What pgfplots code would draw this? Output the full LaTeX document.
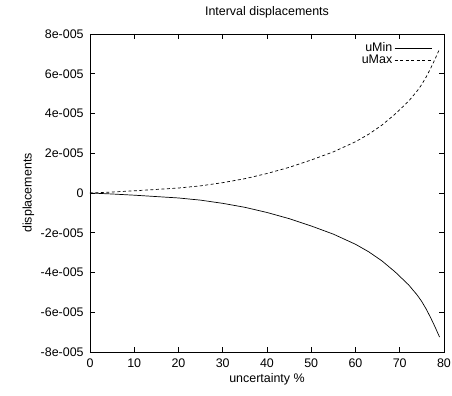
\documentclass[border=0pt]{standalone}
\usepackage{fontspec}
\setmainfont{Liberation Sans}
\usepackage{pgfplots}
\pgfplotsset{compat=1.18}
\begin{document}
\fontsize{12.5}{15}\selectfont
\begin{tikzpicture}
\useasboundingbox (-90bp,-44bp) rectangle (362bp,352bp);
\begin{axis}[
  at={(0,0)}, anchor=south west,
  scale only axis, width=354bp, height=318bp,
  xmin=0, xmax=80, ymin=-8e-5, ymax=8e-5,
  scaled y ticks=false,
  xtick={0,10,...,80},
  xticklabels={0,10,20,30,40,50,60,70,80},
  ytick={-8e-5,-6e-5,-4e-5,-2e-5,0,2e-5,4e-5,6e-5,8e-5},
  yticklabels={-8e-005,-6e-005,-4e-005,-2e-005,0,2e-005,4e-005,6e-005,8e-005},
  tick align=inside,
  major tick length=5bp,
  tick style={black, line width=0.8pt},
  axis line style={line width=1pt},
  xticklabel style={yshift=-2bp},
  yticklabel style={xshift=-2bp},
  title={Interval displacements},
  title style={at={(0.5,1)}, anchor=south, yshift=6bp},
  xlabel={uncertainty \%},
  ylabel={displacements},
  xlabel style={yshift=2bp},
  ylabel style={yshift=-2bp},
  legend style={draw=none, fill=none, at={(0.975,0.985)}, anchor=north east,
    row sep=-3bp, font=\fontsize{12.5}{14}\selectfont,
    /tikz/every even column/.append style={column sep=5bp}},
  legend cell align=right,
  legend plot pos=right,
  legend image code/.code={\draw[#1] (0bp,0bp) -- (37bp,0bp);},
]
\addplot[black, line width=0.7pt] coordinates {
(0,0) (5,-0.05e-5) (10,-0.11e-5) (15,-0.18e-5) (20,-0.25e-5) (25,-0.36e-5)
(30,-0.52e-5) (35,-0.72e-5) (40,-0.98e-5) (45,-1.29e-5) (50,-1.66e-5)
(55,-2.07e-5) (60,-2.58e-5) (63,-2.96e-5) (66,-3.42e-5) (69,-3.98e-5)
(72,-4.62e-5) (74,-5.15e-5) (75,-5.47e-5) (76,-5.85e-5) (77,-6.28e-5)
(78,-6.75e-5) (79,-7.25e-5)
};
\addlegendentry{uMin}
\addplot[black, line width=0.7pt, dash pattern=on 3bp off 2.5bp] coordinates {
(0,0) (5,0.05e-5) (10,0.11e-5) (15,0.18e-5) (20,0.25e-5) (25,0.36e-5)
(30,0.52e-5) (35,0.72e-5) (40,0.98e-5) (45,1.29e-5) (50,1.66e-5)
(55,2.07e-5) (60,2.58e-5) (63,2.96e-5) (66,3.42e-5) (69,3.98e-5)
(72,4.62e-5) (74,5.15e-5) (75,5.47e-5) (76,5.85e-5) (77,6.28e-5)
(78,6.75e-5) (79,7.25e-5)
};
\addlegendentry{uMax}
\end{axis}
\end{tikzpicture}
\end{document}
